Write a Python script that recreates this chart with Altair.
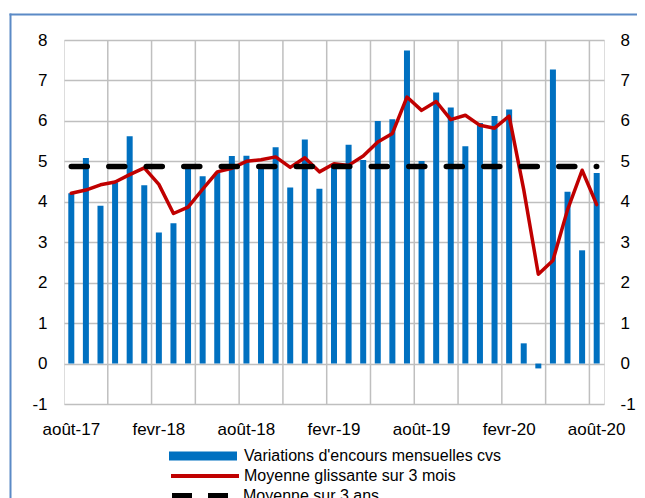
import altair as alt
import pandas as pd

months = ["août-17", "sept-17", "oct-17", "nov-17", "déc-17",
          "janv-18", "fevr-18", "mars-18", "avr-18", "mai-18", "juin-18",
          "juil-18", "août-18", "sept-18", "oct-18", "nov-18", "déc-18",
          "janv-19", "fevr-19", "mars-19", "avr-19", "mai-19", "juin-19",
          "juil-19", "août-19", "sept-19", "oct-19", "nov-19", "déc-19",
          "janv-20", "fevr-20", "mars-20", "avr-20", "mai-20", "juin-20",
          "juil-20", "août-20"]

variations = [4.21, 5.08, 3.90, 4.48, 5.62, 4.41, 3.24, 3.47, 4.85, 4.63,
              4.72, 5.13, 5.14, 4.87, 5.35, 4.35, 5.54, 4.32, 4.92, 5.41,
              5.03, 6.00, 6.04, 7.74, 5.01, 6.70, 6.33, 5.37, 5.95, 6.12,
              6.28, 0.50, -0.12, 7.27, 4.25, 2.80, 4.71]

moyenne_glissante = [4.21, 4.29, 4.42, 4.49, 4.67, 4.84, 4.43, 3.71, 3.87,
                     4.31, 4.74, 4.83, 5.00, 5.04, 5.11, 4.85, 5.09, 4.74,
                     4.94, 4.90, 5.13, 5.48, 5.69, 6.59, 6.26, 6.48, 6.03,
                     6.14, 5.89, 5.82, 6.12, 4.30, 2.21, 2.55, 3.80, 4.78,
                     3.93]

moyenne_3ans = 4.87

grid_months = ["nov-17", "fevr-18", "mai-18", "août-18", "nov-18", "fevr-19",
               "mai-19", "août-19", "nov-19", "fevr-20", "mai-20", "août-20"]
label_months = ["août-17", "fevr-18", "août-18", "fevr-19", "août-19",
                "fevr-20", "août-20"]
y_ticks = [-1, 0, 1, 2, 3, 4, 5, 6, 7, 8]

S1 = "Variations d'encours mensuelles cvs"
S2 = "Moyenne glissante sur 3 mois"
S3 = "Moyenne sur 3 ans"

df = pd.DataFrame({
    "mois": months,
    "variation": variations,
    "mm3": moyenne_glissante,
    "moy3a": [moyenne_3ans] * len(months),
    "s1": S1, "s2": S2, "s3": S3,
})

FONT = "Liberation Sans"
BLUE = "#0070c0"
RED = "#c00000"
GRID = "#bfbfbf"
FRAME = "#5b8ac6"

xscale = alt.Scale(domain=months, type="band", paddingInner=0, paddingOuter=0)
xaxis = alt.Axis(values=label_months, labelAngle=0, labelFont=FONT,
                 labelFontSize=17, labelColor="#000", ticks=False, tickSize=0,
                 domain=False, grid=False, labelPadding=17, title=None)


def yscale():
    return alt.Scale(domain=[-1, 8], nice=False, zero=False)


def legend(x, y, stype, size, offset, **kw):
    return alt.Legend(orient="none", legendX=x, legendY=y, title=None,
                      symbolType=stype, symbolSize=size, padding=0,
                      labelFont=FONT, labelFontSize=16, labelColor="#000",
                      labelLimit=500, labelOffset=offset, **kw)


one = pd.DataFrame({"a": [0]})
frame_top = alt.Chart(one).mark_rule(
    color=FRAME, strokeWidth=2, clip=False
).encode(x=alt.value(-54.5), x2=alt.value(700), y=alt.value(-25.5))
frame_left = alt.Chart(one).mark_rule(
    color=FRAME, strokeWidth=2, clip=False
).encode(x=alt.value(-53.5), y=alt.value(-26.5), y2=alt.value(700))

grid = alt.Chart(pd.DataFrame({"mois": grid_months})).mark_rule(
    color=GRID, strokeWidth=1.5
).encode(x=alt.X("mois:N", scale=xscale, bandPosition=0, axis=xaxis))

bars = alt.Chart(df).mark_bar(size=6).encode(
    x=alt.X("mois:N", scale=xscale, axis=xaxis, sort=months),
    y=alt.Y("variation:Q", scale=yscale(),
            axis=alt.Axis(values=y_ticks, orient="left", grid=True,
                          gridColor=GRID, gridWidth=1.5, domain=False,
                          ticks=False, labelFont=FONT, labelFontSize=17,
                          labelColor="#000", labelPadding=17, title=None,
                          labelExpr="datum.value + ''")),
    color=alt.Color("s1:N", scale=alt.Scale(domain=[S1], range=[BLUE]),
                    legend=legend(105, 382, "M-1,-0.13H1V0.13H-1Z", 4624, 7,
                                  symbolStrokeWidth=0)),
)

red = alt.Chart(df).mark_line(strokeWidth=3.5, strokeJoin="round",
                              strokeCap="round").encode(
    x=alt.X("mois:N", scale=xscale, axis=xaxis, sort=months),
    y=alt.Y("mm3:Q", scale=yscale(), axis=None),
    color=alt.Color("s2:N", scale=alt.Scale(domain=[S2], range=[RED]),
                    legend=legend(105, 400, "M-1,0H1", 4624, 3,
                                  symbolStrokeWidth=4)),
)

dashed = alt.Chart(df).mark_line(strokeWidth=5.5, strokeDash=[16, 21.5],
                                 strokeCap="round").encode(
    x=alt.X("mois:N", scale=xscale, axis=xaxis, sort=months),
    y=alt.Y("moy3a:Q", scale=yscale(),
            axis=alt.Axis(values=y_ticks, orient="right", grid=False,
                          domain=False, ticks=False, labelFont=FONT,
                          labelFontSize=17, labelColor="#000",
                          labelPadding=16, title=None,
                          labelExpr="datum.value + ''")),
    color=alt.Color("s3:N", scale=alt.Scale(domain=[S3], range=["#000"]),
                    legend=legend(105, 419, "M-1,0H1", 4624, 0,
                                  symbolStrokeWidth=6, symbolDash=[20, 16])),
)

chart = alt.layer(frame_top, frame_left, grid, bars, red, dashed).resolve_scale(
    color="independent", y="independent"
).properties(
    width=540, height=364,
    padding={"left": 56, "top": 32, "right": 33, "bottom": 94},
    autosize=alt.AutoSizeParams(type="none"),
).configure_view(stroke="#000", strokeWidth=2).configure(background="white")

chart.save("out.html", embed_options={"renderer": "svg", "actions": False})
